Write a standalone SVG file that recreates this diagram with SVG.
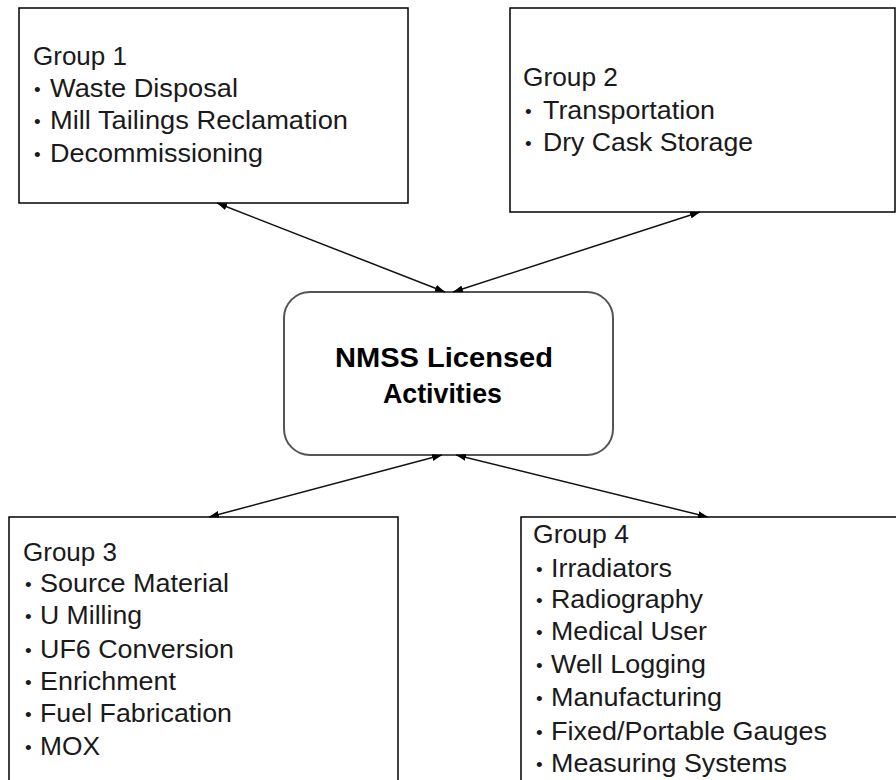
<svg xmlns="http://www.w3.org/2000/svg" width="896" height="780" viewBox="0 0 896 780">
<defs>
<marker id="ah" viewBox="0 0 10 7" refX="10" refY="3.5" markerWidth="10" markerHeight="7" markerUnits="userSpaceOnUse" orient="auto-start-reverse">
<path d="M0,0 L10,3.5 L0,7 z" fill="#000"/>
</marker>
<style>
.box{fill:#fff;stroke:#000;stroke-width:1.5}
.center{fill:#fff;stroke:#555;stroke-width:2}
.t{font-family:"Liberation Sans",Arial,sans-serif;font-size:25px;fill:#1a1a1a}
.d{font-family:"Liberation Sans",Arial,sans-serif;font-size:19px;fill:#1a1a1a}
.b{font-family:"Liberation Sans",Arial,sans-serif;font-size:27px;font-weight:bold;fill:#000}
.c{stroke:#111;stroke-width:1.5;fill:none;marker-start:url(#ah);marker-end:url(#ah)}
</style>
</defs>
<rect width="896" height="780" fill="#fff"/>
<g id="group1">
<rect class="box" x="19" y="8" width="389" height="195"/>
<text class="t" x="33" y="65" textLength="94" lengthAdjust="spacingAndGlyphs">Group 1</text>
<text class="d" x="34" y="96">•</text><text class="t" x="50" y="97" textLength="188" lengthAdjust="spacingAndGlyphs">Waste Disposal</text>
<text class="d" x="34" y="128">•</text><text class="t" x="50" y="129" textLength="298" lengthAdjust="spacingAndGlyphs">Mill Tailings Reclamation</text>
<text class="d" x="34" y="161">•</text><text class="t" x="50" y="162" textLength="213" lengthAdjust="spacingAndGlyphs">Decommissioning</text>
</g>
<g id="group2">
<rect class="box" x="510" y="8" width="385" height="204"/>
<text class="t" x="523" y="86" textLength="95" lengthAdjust="spacingAndGlyphs">Group 2</text>
<text class="d" x="525" y="118">•</text><text class="t" x="543" y="119" textLength="172" lengthAdjust="spacingAndGlyphs">Transportation</text>
<text class="d" x="525" y="150">•</text><text class="t" x="543" y="151" textLength="210" lengthAdjust="spacingAndGlyphs">Dry Cask Storage</text>
</g>
<g id="center">
<rect class="center" x="284" y="292" width="329" height="163" rx="26" ry="26"/>
<text class="b" x="335" y="367" textLength="218" lengthAdjust="spacingAndGlyphs">NMSS Licensed</text>
<text class="b" x="383" y="403" textLength="119" lengthAdjust="spacingAndGlyphs">Activities</text>
</g>
<g id="group3">
<rect class="box" x="9" y="517" width="389" height="280"/>
<text class="t" x="23" y="561" textLength="94" lengthAdjust="spacingAndGlyphs">Group 3</text>
<text class="d" x="25" y="591">•</text><text class="t" x="40" y="592" textLength="189" lengthAdjust="spacingAndGlyphs">Source Material</text>
<text class="d" x="25" y="623">•</text><text class="t" x="40" y="624" textLength="102" lengthAdjust="spacingAndGlyphs">U Milling</text>
<text class="d" x="25" y="657">•</text><text class="t" x="40" y="658" textLength="194" lengthAdjust="spacingAndGlyphs">UF6 Conversion</text>
<text class="d" x="25" y="689">•</text><text class="t" x="40" y="690" textLength="136" lengthAdjust="spacingAndGlyphs">Enrichment</text>
<text class="d" x="25" y="721">•</text><text class="t" x="40" y="722" textLength="192" lengthAdjust="spacingAndGlyphs">Fuel Fabrication</text>
<text class="d" x="25" y="754">•</text><text class="t" x="40" y="755" textLength="60" lengthAdjust="spacingAndGlyphs">MOX</text>
</g>
<g id="group4">
<rect class="box" x="521" y="517" width="390" height="280"/>
<text class="t" x="533" y="543" textLength="96" lengthAdjust="spacingAndGlyphs">Group 4</text>
<text class="d" x="536" y="576">•</text><text class="t" x="551" y="577" textLength="121" lengthAdjust="spacingAndGlyphs">Irradiators</text>
<text class="d" x="536" y="607">•</text><text class="t" x="551" y="608" textLength="152" lengthAdjust="spacingAndGlyphs">Radiography</text>
<text class="d" x="536" y="639">•</text><text class="t" x="551" y="640" textLength="156" lengthAdjust="spacingAndGlyphs">Medical User</text>
<text class="d" x="536" y="672">•</text><text class="t" x="551" y="673" textLength="155" lengthAdjust="spacingAndGlyphs">Well Logging</text>
<text class="d" x="536" y="705">•</text><text class="t" x="551" y="706" textLength="171" lengthAdjust="spacingAndGlyphs">Manufacturing</text>
<text class="d" x="536" y="739">•</text><text class="t" x="551" y="740" textLength="276" lengthAdjust="spacingAndGlyphs">Fixed/Portable Gauges</text>
<text class="d" x="536" y="771">•</text><text class="t" x="551" y="772" textLength="236" lengthAdjust="spacingAndGlyphs">Measuring Systems</text>
</g>
<g id="connectors">
<line class="c" x1="217" y1="203" x2="445" y2="292"/>
<line class="c" x1="700" y1="212" x2="453" y2="292"/>
<line class="c" x1="209" y1="517" x2="442" y2="455"/>
<line class="c" x1="708" y1="517" x2="456" y2="455"/>
</g>
</svg>
